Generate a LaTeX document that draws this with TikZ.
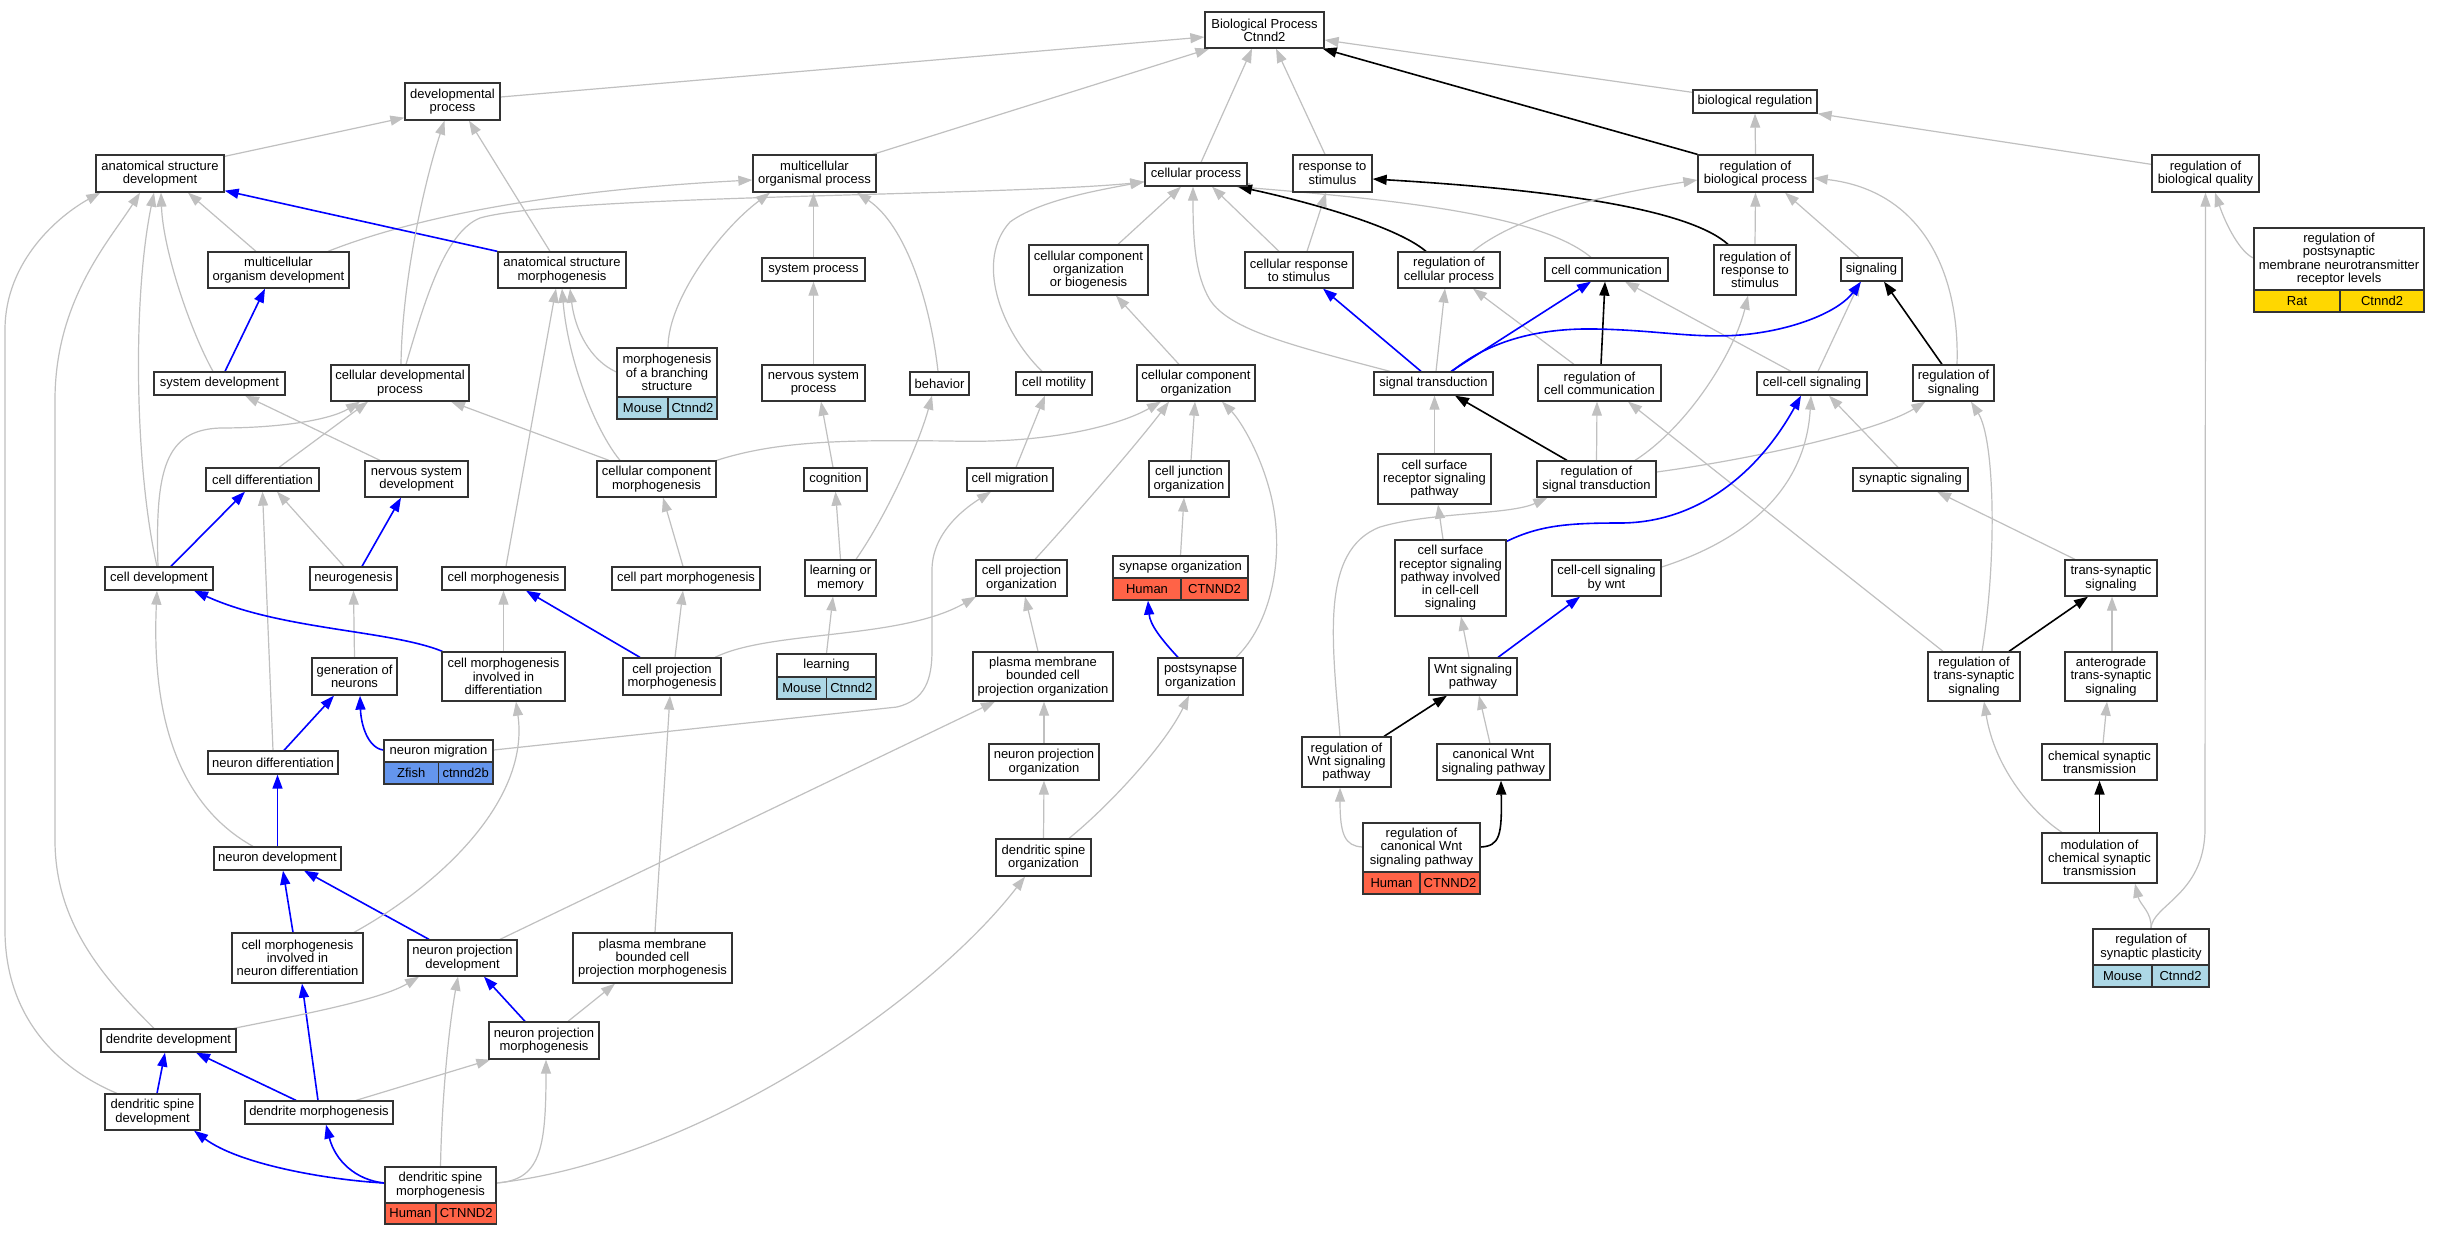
\documentclass[tikz,border=0pt]{standalone}
\usepackage{fontspec}
\setmainfont{Liberation Sans}
\usetikzlibrary{arrows.meta}
\pgfdeclarelayer{edgelayer}
\pgfsetlayers{edgelayer,main}
\definecolor{edgegray}{RGB}{192,192,192}
\definecolor{mousecol}{RGB}{173,216,230}
\definecolor{humancol}{RGB}{255,99,71}
\definecolor{zfishcol}{RGB}{100,149,237}
\definecolor{ratcol}{RGB}{255,215,0}
\newcommand\gofont{\fontsize{13}{13.3}\selectfont}
\tikzset{
  gobox/.style={draw=black!80, line width=1.3pt, fill=white, inner sep=0pt, align=center, font=\gofont},
  anc/.style={inner sep=0pt, outer sep=0.65pt},
  tip/.style={-{Triangle[length=14pt,width=10pt]}},
  ge/.style={draw=edgegray, line width=1.2pt, tip},
  be/.style={draw=blue, line width=1.6pt, tip},
  ke/.style={draw=black, line width=1.6pt, tip},
}
\begin{document}
\begin{tikzpicture}[x=1pt,y=-1pt]
\useasboundingbox (0,0) rectangle (2440,1235);
% ---------------- nodes ----------------
\node[gobox, minimum width=119pt, minimum height=36pt] (bp) at (1264.5,30) {Biological Process\\Ctnnd2};
\node[gobox, minimum width=95pt, minimum height=37pt] (devp) at (452.5,101.5) {developmental\\process};
\node[gobox, minimum width=128pt, minimum height=37pt] (asd) at (160,173.5) {anatomical structure\\development};
\node[gobox, minimum width=141pt, minimum height=36pt] (mod) at (278.5,270) {multicellular\\organism development};
\node[gobox, minimum width=128pt, minimum height=36pt] (asm) at (562,270) {anatomical structure\\morphogenesis};
\node[gobox, minimum width=131pt, minimum height=23pt] (sysdev) at (219.5,383.5) {system development};
\node[gobox, minimum width=138pt, minimum height=36pt] (cdp) at (400,383) {cellular developmental\\process};
\node[gobox, minimum width=123pt, minimum height=37pt] (mop) at (814.5,173.5) {multicellular\\organismal process};
\node[gobox, minimum width=103pt, minimum height=23pt] (sysp) at (813.5,269.5) {system process};
\node[gobox, minimum width=103pt, minimum height=36pt] (nsp) at (813.5,383) {nervous system\\process};
\node[gobox, minimum width=59pt, minimum height=23pt] (beh) at (939.5,383.5) {behavior};
\node[gobox, minimum width=76pt, minimum height=23pt] (cmot) at (1054,383.5) {cell motility};
\node[gobox, minimum width=119pt, minimum height=50pt] (ccob) at (1088.5,270) {cellular component\\organization\\or biogenesis};
\node[gobox, minimum width=102pt, minimum height=23pt] (cp) at (1196,174.5) {cellular process};
\node[gobox, minimum width=118pt, minimum height=36pt] (cco) at (1196,383) {cellular component\\organization};
\node[gobox, minimum width=79pt, minimum height=37pt] (rts) at (1332.5,173.5) {response to\\stimulus};
\node[gobox, minimum width=124pt, minimum height=23pt] (breg) at (1755,101.5) {biological regulation};
\node[gobox, minimum width=115pt, minimum height=37pt] (rbp) at (1755.5,173.5) {regulation of\\biological process};
\node[gobox, minimum width=108pt, minimum height=36pt] (crs) at (1299,270) {cellular response\\to stimulus};
\node[gobox, minimum width=102pt, minimum height=36pt] (rcp) at (1449,270) {regulation of\\cellular process};
\node[gobox, minimum width=123pt, minimum height=23pt] (ccom) at (1606.5,269.5) {cell communication};
\node[gobox, minimum width=82pt, minimum height=50pt] (rrs) at (1755,270) {regulation of\\response to\\stimulus};
\node[gobox, minimum width=119pt, minimum height=23pt] (st) at (1433.5,383.5) {signal transduction};
\node[gobox, minimum width=123pt, minimum height=36pt] (rcc) at (1599.5,383) {regulation of\\cell communication};
\node[gobox, minimum width=110pt, minimum height=23pt] (ccs) at (1812,383.5) {cell-cell signaling};
\node[gobox, minimum width=107pt, minimum height=37pt] (rbq) at (2205.5,173.5) {regulation of\\biological quality};
\node[gobox, minimum width=61pt, minimum height=23pt] (sig) at (1871.5,269.5) {signaling};
\node[gobox, minimum width=81pt, minimum height=36pt] (rsig) at (1953.5,383) {regulation of\\signaling};
\node[gobox, minimum width=113pt, minimum height=23pt] (cdiff) at (262.5,479.5) {cell differentiation};
\node[gobox, minimum width=103pt, minimum height=36pt] (nsd) at (416.5,479) {nervous system\\development};
\node[gobox, minimum width=119pt, minimum height=36pt] (ccm) at (656.5,479) {cellular component\\morphogenesis};
\node[gobox, minimum width=108pt, minimum height=23pt] (cdev) at (159,578.5) {cell development};
\node[gobox, minimum width=87pt, minimum height=23pt] (neur) at (353.5,578.5) {neurogenesis};
\node[gobox, minimum width=123pt, minimum height=23pt] (cmorph) at (503.5,578.5) {cell morphogenesis};
\node[gobox, minimum width=148pt, minimum height=23pt] (cpartm) at (686,578.5) {cell part morphogenesis};
\node[gobox, minimum width=85pt, minimum height=37pt] (gon) at (354.5,676.5) {generation of\\neurons};
\node[gobox, minimum width=123pt, minimum height=49pt] (cmid) at (503.5,676.5) {cell morphogenesis\\involved in\\differentiation};
\node[gobox, minimum width=130pt, minimum height=23pt] (ndiff) at (273,762.5) {neuron differentiation};
\node[gobox, minimum width=63pt, minimum height=23pt] (cog) at (835.5,479.5) {cognition};
\node[gobox, minimum width=86pt, minimum height=23pt] (cmig) at (1010,479.5) {cell migration};
\node[gobox, minimum width=80pt, minimum height=36pt] (cjo) at (1189,479) {cell junction\\organization};
\node[gobox, minimum width=71pt, minimum height=36pt] (lom) at (840.5,578) {learning or\\memory};
\node[gobox, minimum width=91pt, minimum height=36pt] (cpo) at (1021.5,578) {cell projection\\organization};
\node[gobox, minimum width=98pt, minimum height=37pt] (cpm) at (672,676.5) {cell projection\\morphogenesis};
\node[gobox, minimum width=140pt, minimum height=49pt] (pmbcpo) at (1043,676.5) {plasma membrane\\bounded cell\\projection organization};
\node[gobox, minimum width=85pt, minimum height=37pt] (pso) at (1200.5,676.5) {postsynapse\\organization};
\node[gobox, minimum width=110pt, minimum height=36pt] (npo) at (1044,762) {neuron projection\\organization};
\node[gobox, minimum width=113pt, minimum height=50pt] (csrsp) at (1434.5,479) {cell surface\\receptor signaling\\pathway};
\node[gobox, minimum width=119pt, minimum height=36pt] (rst) at (1596.5,479) {regulation of\\signal transduction};
\node[gobox, minimum width=111pt, minimum height=76pt] (csrspi) at (1450.5,578) {cell surface\\receptor signaling\\pathway involved\\in cell-cell\\signaling};
\node[gobox, minimum width=109pt, minimum height=36pt] (ccsw) at (1606.5,578) {cell-cell signaling\\by wnt};
\node[gobox, minimum width=88pt, minimum height=37pt] (wnt) at (1473,676.5) {Wnt signaling\\pathway};
\node[gobox, minimum width=89pt, minimum height=50pt] (rwnt) at (1346.5,762) {regulation of\\Wnt signaling\\pathway};
\node[gobox, minimum width=113pt, minimum height=36pt] (cwnt) at (1493.5,762) {canonical Wnt\\signaling pathway};
\node[gobox, minimum width=115pt, minimum height=23pt] (synsig) at (1910.5,479.5) {synaptic signaling};
\node[gobox, minimum width=92pt, minimum height=36pt] (tss) at (2111,578) {trans-synaptic\\signaling};
\node[gobox, minimum width=92pt, minimum height=49pt] (rtss) at (1974,676.5) {regulation of\\trans-synaptic\\signaling};
\node[gobox, minimum width=92pt, minimum height=49pt] (ats) at (2111,676.5) {anterograde\\trans-synaptic\\signaling};
\node[gobox, minimum width=115pt, minimum height=36pt] (cst) at (2099.5,762) {chemical synaptic\\transmission};
\node[gobox, minimum width=127pt, minimum height=23pt] (ndev) at (277.5,858.5) {neuron development};
\node[gobox, minimum width=131pt, minimum height=50pt] (cmind) at (297.5,958) {cell morphogenesis\\involved in\\neuron differentiation};
\node[gobox, minimum width=109pt, minimum height=36pt] (npd) at (462.5,958) {neuron projection\\development};
\node[gobox, minimum width=159pt, minimum height=50pt] (pmbcpm) at (652.5,958) {plasma membrane\\bounded cell\\projection morphogenesis};
\node[gobox, minimum width=135pt, minimum height=23pt] (dd) at (168.5,1040.5) {dendrite development};
\node[gobox, minimum width=110pt, minimum height=37pt] (npm) at (544,1040.5) {neuron projection\\morphogenesis};
\node[gobox, minimum width=95pt, minimum height=36pt] (dsd) at (152.5,1112) {dendritic spine\\development};
\node[gobox, minimum width=148pt, minimum height=23pt] (dm) at (319,1112.5) {dendrite morphogenesis};
\node[gobox, minimum width=95pt, minimum height=37pt] (dso) at (1043.5,857.5) {dendritic spine\\organization};
\node[gobox, minimum width=115pt, minimum height=50pt] (mcst) at (2099.5,858) {modulation of\\chemical synaptic\\transmission};
% ---- nodes with species bars ----
\node[gobox, minimum width=100pt, minimum height=49pt] (mbs-h) at (667,372.5) {morphogenesis\\of a branching\\structure};
\node[gobox, fill=mousecol, minimum width=51pt, minimum height=22pt] (mbs-a) at (642.5,408) {Mouse};
\node[gobox, fill=mousecol, minimum width=49pt, minimum height=22pt] (mbs-b) at (692.5,408) {Ctnnd2};
\node[anc, minimum width=100pt, minimum height=71pt] (mbs) at (667,383.5) {};
\node[gobox, minimum width=170pt, minimum height=62pt] (rpm-h) at (2339,259) {regulation of\\postsynaptic\\membrane neurotransmitter\\receptor levels};
\node[gobox, fill=ratcol, minimum width=86pt, minimum height=22pt] (rpm-a) at (2297,301) {Rat};
\node[gobox, fill=ratcol, minimum width=84pt, minimum height=22pt] (rpm-b) at (2382,301) {Ctnnd2};
\node[anc, minimum width=170pt, minimum height=84pt] (rpm) at (2339,270) {};
\node[gobox, minimum width=109pt, minimum height=22pt] (nmig-h) at (438.5,751) {neuron migration};
\node[gobox, fill=zfishcol, minimum width=54.5pt, minimum height=22pt] (nmig-a) at (411.25,773) {Zfish};
\node[gobox, fill=zfishcol, minimum width=54.5pt, minimum height=22pt] (nmig-b) at (465.75,773) {ctnnd2b};
\node[anc, minimum width=109pt, minimum height=44pt] (nmig) at (438.5,762) {};
\node[gobox, minimum width=135pt, minimum height=22pt] (synorg-h) at (1180.5,567) {synapse organization};
\node[gobox, fill=humancol, minimum width=68pt, minimum height=22pt] (synorg-a) at (1147,589) {Human};
\node[gobox, fill=humancol, minimum width=67pt, minimum height=22pt] (synorg-b) at (1214.5,589) {CTNND2};
\node[anc, minimum width=135pt, minimum height=44pt] (synorg) at (1180.5,578) {};
\node[gobox, minimum width=99pt, minimum height=23pt] (learn-h) at (826.5,665.5) {learning};
\node[gobox, fill=mousecol, minimum width=49.6pt, minimum height=22pt] (learn-a) at (801.8,688) {Mouse};
\node[gobox, fill=mousecol, minimum width=49.4pt, minimum height=22pt] (learn-b) at (851.3,688) {Ctnnd2};
\node[anc, minimum width=99pt, minimum height=45pt] (learn) at (826.5,676.5) {};
\node[gobox, minimum width=111pt, minimum height=36pt] (dsm-h) at (440.5,1185) {dendritic spine\\morphogenesis};
\node[gobox, fill=humancol, minimum width=50.7pt, minimum height=21pt] (dsm-a) at (410.35,1213.5) {Human};
\node[gobox, fill=humancol, minimum width=60.3pt, minimum height=21pt] (dsm-b) at (466.15,1213.5) {CTNND2};
\node[anc, minimum width=111pt, minimum height=57pt] (dsm) at (440.5,1195.5) {};
\node[gobox, minimum width=117pt, minimum height=49pt] (rcwnt-h) at (1421.5,847.5) {regulation of\\canonical Wnt\\signaling pathway};
\node[gobox, fill=humancol, minimum width=57pt, minimum height=22pt] (rcwnt-a) at (1391.5,883) {Human};
\node[gobox, fill=humancol, minimum width=60pt, minimum height=22pt] (rcwnt-b) at (1450,883) {CTNND2};
\node[anc, minimum width=117pt, minimum height=71pt] (rcwnt) at (1421.5,858.5) {};
\node[gobox, minimum width=116pt, minimum height=36pt] (rsp-h) at (2151,947) {regulation of\\synaptic plasticity};
\node[gobox, fill=mousecol, minimum width=59pt, minimum height=22pt] (rsp-a) at (2122.5,976) {Mouse};
\node[gobox, fill=mousecol, minimum width=57pt, minimum height=22pt] (rsp-b) at (2180.5,976) {Ctnnd2};
\node[anc, minimum width=116pt, minimum height=58pt] (rsp) at (2151,958) {};
% ---------------- edges ----------------
\begin{pgfonlayer}{edgelayer}
\fill[white] (0,0) rectangle (2440,1235);
\draw[ge] ([yshift=4.5pt]devp.east) -- ([yshift=-7pt]bp.west);
\draw[ge] ([yshift=-2pt]asd.north east) -- ([yshift=3pt]devp.south west);
\draw[ge] ([xshift=58.5pt]mop.north) -- ([xshift=5pt]bp.south west);
\draw[ge] ([xshift=5pt]cp.north) -- ([xshift=-12.5pt]bp.south);
\draw[ge] ([xshift=-7.5pt]rts.north) -- ([xshift=11.5pt]bp.south);
\draw[ke] (rbp.north west) -- ([xshift=-2pt]bp.south east);
\draw[ge] ([yshift=-3pt]breg.north west) -- ([yshift=-10pt]bp.east);
\draw[ge] (rbp.north) -- (breg.south);
\draw[ge] ([yshift=-10pt]rbq.north west) -- (breg.south east);
\draw[ge] ([yshift=12pt]rpm.west) .. controls (2240,252) and (2226,225) .. ([xshift=9.5pt]rbq.south);
\draw[ge] (rsp.north) .. controls (2152,905) and (2204,895) .. (2205,830) -- (rbq.south);
\draw[ge] (rsp.north) .. controls (2152,912) and (2140,905) .. ([xshift=35.5pt]mcst.south);
\draw[ke] (mcst.north) -- (cst.south);
\draw[ge] ([xshift=-37.5pt]mcst.north) .. controls (2035,815) and (1995,770) .. ([xshift=10pt]rtss.south);
\draw[ge] ([xshift=3.5pt]cst.north) -- ([xshift=-4pt]ats.south);
\draw[ge] ([xshift=1pt]ats.north) -- ([xshift=1pt]tss.south);
\draw[ke] ([xshift=35pt]rtss.north) -- ([xshift=-23pt]tss.south);
\draw[ge] ([xshift=-36pt]tss.north) -- ([xshift=26.5pt]synsig.south);
\draw[ge] ([xshift=8pt]rtss.north) .. controls (1997,560) and (1995,440) .. ([xshift=17.5pt]rsig.south);
\draw[ge] ([xshift=-31pt]rtss.north) -- ([xshift=28.5pt]rcc.south);
\draw[ge] ([xshift=-12.5pt]synsig.north) -- ([xshift=17pt]ccs.south);
\draw[ge] ([yshift=7pt]rst.east) .. controls (1760,458) and (1880,430) .. ([xshift=13pt]rsig.south west);
\draw[ke] ([xshift=-11.5pt]rsig.north) -- ([xshift=12.5pt]sig.south);
\draw[ge] ([xshift=3.5pt]rsig.north) .. controls (1960,270) and (1920,190) .. ([yshift=-4.5pt]rbp.east);
\draw[ge] ([xshift=6pt]ccs.north) -- ([xshift=-11.5pt]sig.south);
\draw[ge] ([xshift=-21pt]ccs.north) -- ([xshift=18.5pt]ccom.south);
\draw[ge] ([xshift=-12.5pt]sig.north) -- ([xshift=29.5pt]rbp.south);
\draw[ge] (rrs.north) -- (rbp.south);
\draw[ke] ([xshift=-27pt]rrs.north) .. controls (1690,210) and (1560,190) .. ([yshift=-5.5pt]rts.east);
\draw[ge] ([xshift=38.5pt]rst.north) .. controls (1690,425) and (1735,350) .. ([xshift=-7pt]rrs.south);
\draw[ke] ([xshift=-29.5pt]rst.north) -- ([xshift=21.5pt]st.south);
\draw[ge] (rst.north) -- ([xshift=-2.5pt]rcc.south);
\draw[ke] ([xshift=1.5pt]rcc.north) -- ([xshift=-1.5pt]ccom.south);
\draw[ge] ([xshift=-25.5pt]rcc.north) -- ([xshift=24pt]rcp.south);
\draw[be] ([xshift=-12.5pt]st.north) -- ([xshift=24pt]crs.south);
\draw[be] ([xshift=17.5pt]st.north) -- ([xshift=-15.5pt]ccom.south);
\draw[be] ([xshift=18.5pt]st.north) .. controls (1490,340) and (1540,328) .. (1595,329) .. controls (1660,330) and (1700,340) .. (1750,334) .. controls (1800,328) and (1840,310) .. ([xshift=-10.5pt]sig.south);
\draw[ge] ([xshift=2.5pt]st.north) -- ([xshift=-4pt]rcp.south);
\draw[ge] ([xshift=-43.5pt]st.north) .. controls (1290,345) and (1230,330) .. (1210,300) .. controls (1195,275) and (1193,240) .. ([xshift=-3pt]cp.south);
\draw[ge] ([xshift=8pt]crs.north) -- ([xshift=-6.5pt]rts.south);
\draw[ge] ([xshift=-20pt]crs.north) -- ([xshift=16pt]cp.south);
\draw[ge] ([xshift=-15.5pt]ccom.north) .. controls (1540,215) and (1400,200) .. ([xshift=40pt]cp.south);
\draw[ke] ([xshift=-23pt]rcp.north) .. controls (1395,225) and (1300,200) .. ([xshift=42pt]cp.south);
\draw[ge] ([xshift=24pt]rcp.north) .. controls (1505,225) and (1570,200) .. ([yshift=-6.5pt]rbp.west);
\draw[ge] ([xshift=6pt]cdp.north) .. controls (425,300) and (445,232) .. (480,218) .. controls (560,195) and (1000,196) .. ([yshift=-7.5pt]cp.west);
\draw[ge] ([xshift=-12pt]cmot.north) .. controls (1000,330) and (975,260) .. (1010,222) .. controls (1040,200) and (1100,190) .. ([yshift=-7pt]cp.west);
\draw[ge] ([xshift=29.5pt]ccob.north) -- ([xshift=-15pt]cp.south);
\draw[ge] ([xshift=49.5pt]mod.north) .. controls (420,215) and (560,190) .. ([yshift=-6.5pt]mop.west);
\draw[ge] (sysp.north) -- ([xshift=-1pt]mop.south);
\draw[ge] ([xshift=1pt]mbs.north) .. controls (668,300) and (720,230) .. ([xshift=-44.5pt]mop.south);
\draw[ge] ([xshift=-1.5pt]beh.north) .. controls (930,300) and (905,225) .. ([xshift=42.5pt]mop.south);
\draw[ge] (nsp.north) -- (sysp.south);
\draw[ge] ([xshift=-2.5pt]cog.north) -- ([xshift=7.5pt]nsp.south);
\draw[ge] (lom.north) -- (cog.south);
\draw[ge] ([xshift=15.5pt]lom.north) .. controls (890,510) and (920,440) .. ([xshift=-7.5pt]beh.south);
\draw[ge] (learn.north) -- ([xshift=-7.5pt]lom.south);
\draw[ge] ([xshift=-17pt]cco.north) -- ([xshift=27.5pt]ccob.south);
\draw[ge] (ccm.north east) .. controls (780,440) and (850,440) .. (950,441) .. controls (1050,444) and (1120,425) .. ([xshift=-35pt]cco.south);
\draw[ge] ([xshift=13.5pt]cpo.north) .. controls (1080,510) and (1140,440) .. ([xshift=-27pt]cco.south);
\draw[ge] ([xshift=2pt]cjo.north) -- ([xshift=-1pt]cco.south);
\draw[ge] ([xshift=35.5pt]pso.north) .. controls (1270,625) and (1285,560) .. (1272,500) .. controls (1262,455) and (1240,420) .. ([xshift=26pt]cco.south);
\draw[ge] (synorg.north) -- ([xshift=-5pt]cjo.south);
\draw[be] ([xshift=-22.5pt]pso.north) .. controls (1162,640) and (1150,625) .. ([xshift=-32.5pt]synorg.south);
\draw[ge] ([xshift=25.5pt]dso.north) .. controls (1110,805) and (1165,745) .. ([xshift=-11.5pt]pso.south);
\draw[ge] ([yshift=12.5pt]dsm.east) .. controls (700,1160) and (930,1000) .. ([xshift=-18.5pt]dso.south);
\draw[ge] (dso.north) -- (npo.south);
\draw[ge] (npo.north) -- ([xshift=1pt]pmbcpo.south);
\draw[ge] ([xshift=-5pt]pmbcpo.north) -- ([xshift=3.5pt]cpo.south);
\draw[ge] ([xshift=43pt]cpm.north) .. controls (770,630) and (900,640) .. ([xshift=-45.5pt]cpo.south);
\draw[ge] ([xshift=3pt]cpm.north) -- ([xshift=-3pt]cpartm.south);
\draw[be] ([xshift=-32pt]cpm.north) -- ([xshift=22.5pt]cmorph.south);
\draw[ge] ([xshift=-3pt]cpartm.north) -- ([xshift=6.5pt]ccm.south);
\draw[ge] ([xshift=-47.5pt]ccm.north) -- ([xshift=51pt]cdp.south);
\draw[ge] ([xshift=-36.5pt]ccm.north) .. controls (595,430) and (568,360) .. (asm.south);
\draw[ge] ([yshift=11.5pt]mbs.west) .. controls (590,360) and (575,330) .. ([xshift=8pt]asm.south);
\draw[ge] ([xshift=2.5pt]cmorph.north) -- ([xshift=-6pt]asm.south);
\draw[ge] ([xshift=-12pt]asm.north) -- ([xshift=16.5pt]devp.south);
\draw[be] (asm.north west) -- ([yshift=2pt]asd.south east);
\draw[ge] ([xshift=1pt]cdp.north) .. controls (402,280) and (425,180) .. ([xshift=-8pt]devp.south);
\draw[ge] ([xshift=-22.5pt]mod.north) -- ([xshift=28pt]asd.south);
\draw[be] ([xshift=5.5pt]sysdev.north) -- ([xshift=-13.5pt]mod.south);
\draw[ge] ([xshift=-6.5pt]sysdev.north) .. controls (190,330) and (163,250) .. ([xshift=1pt]asd.south);
\draw[ge] ([xshift=-2pt]cdev.north) .. controls (135,470) and (132,300) .. ([xshift=-6pt]asd.south);
\draw[ge] ([xshift=-14.5pt]dd.north) .. controls (100,975) and (55,920) .. (55,840) -- (55,400) .. controls (55,300) and (110,240) .. ([xshift=-20pt]asd.south);
\draw[ge] ([xshift=-35.5pt]dsd.north) .. controls (50,1065) and (5,1010) .. (5,930) -- (5,330) .. controls (5,260) and (60,215) .. ([xshift=5pt]asd.south west);
\draw[ge] ([xshift=-36.5pt]nsd.north) -- ([xshift=25.5pt]sysdev.south);
\draw[ge] ([xshift=16.5pt]cdiff.north) -- ([xshift=-32pt]cdp.south);
\draw[ge] ([xshift=-1pt]cdev.north) .. controls (155,470) and (165,430) .. (220,428) .. controls (280,428) and (330,420) .. ([xshift=-40pt]cdp.south);
\draw[be] ([xshift=12pt]cdev.north) -- ([xshift=-17.5pt]cdiff.south);
\draw[be] ([xshift=8.5pt]neur.north) -- ([xshift=-15.5pt]nsd.south);
\draw[ge] ([xshift=-9.5pt]neur.north) -- ([xshift=14.5pt]cdiff.south);
\draw[ge] (ndiff.north) -- (cdiff.south);
\draw[ge] (gon.north) -- (neur.south);
\draw[be] ([xshift=11pt]ndiff.north) -- ([xshift=-20.5pt]gon.south);
\draw[be] ([yshift=12pt]nmig.west) .. controls (368,748) and (361,725) .. ([xshift=5.5pt]gon.south);
\draw[ge] ([yshift=12pt]nmig.east) -- (897,707) .. controls (925,700) and (932,680) .. (932,650) -- (932,570) .. controls (932,530) and (970,505) .. ([xshift=-19pt]cmig.south);
\draw[ge] ([xshift=6pt]cmig.north) -- ([xshift=-9pt]cmot.south);
\draw[ge] ([xshift=-24.5pt]ndev.north) .. controls (170,800) and (152,700) .. ([xshift=-2pt]cdev.south);
\draw[be] ([xshift=1pt]cmid.north west) .. controls (390,630) and (280,630) .. ([xshift=35pt]cdev.south);
\draw[ge] (cmid.north) -- (cmorph.south);
\draw[be] (ndev.north) -- ([xshift=4.5pt]ndiff.south);
\draw[be] ([xshift=-4.5pt]cmind.north) -- ([xshift=5.5pt]ndev.south);
\draw[be] ([xshift=-33.5pt]npd.north) -- ([xshift=26.5pt]ndev.south);
\draw[ge] ([xshift=56.5pt]cmind.north) .. controls (440,885) and (530,800) .. ([xshift=12.5pt]cmid.south);
\draw[be] ([xshift=-1pt]dm.north) -- ([xshift=4.5pt]cmind.south);
\draw[ge] ([xshift=-3pt]dd.north east) .. controls (300,1015) and (380,1000) .. ([xshift=-43.5pt]npd.south);
\draw[ge] (dsm.north) .. controls (442,1090) and (450,1020) .. ([xshift=-4.5pt]npd.south);
\draw[be] ([xshift=-19pt]npm.north) -- ([xshift=21.5pt]npd.south);
\draw[ge] ([xshift=37.5pt]npd.north) -- ([xshift=-48pt]pmbcpo.south);
\draw[ge] ([xshift=24pt]npm.north) -- ([xshift=-37.5pt]pmbcpm.south);
\draw[ge] ([xshift=2.5pt]pmbcpm.north) -- ([xshift=-2pt]cpm.south);
\draw[be] ([xshift=4.5pt]dsd.north) -- ([xshift=-3.5pt]dd.south);
\draw[be] ([xshift=-23pt]dm.north) -- ([xshift=27.5pt]dd.south);
\draw[ge] ([xshift=37pt]dm.north) -- ([xshift=2pt]npm.south west);
\draw[be] ([yshift=12.5pt]dsm.west) .. controls (330,1180) and (240,1165) .. ([xshift=41.5pt]dsd.south);
\draw[be] ([yshift=12.5pt]dsm.west) .. controls (355,1180) and (335,1160) .. ([xshift=7pt]dm.south);
\draw[ge] ([yshift=12.5pt]dsm.east) .. controls (540,1180) and (546,1150) .. ([xshift=2pt]npm.south);
\draw[ge] ([yshift=11.5pt]rcwnt.west) .. controls (1345,846) and (1340,835) .. ([xshift=-6.5pt]rwnt.south);
\draw[ke] ([yshift=11.5pt]rcwnt.east) .. controls (1500,846) and (1502,835) .. ([xshift=7.5pt]cwnt.south);
\draw[ge] ([xshift=-3.5pt]cwnt.north) -- ([xshift=6pt]wnt.south);
\draw[ke] ([xshift=37.5pt]rwnt.north) -- ([xshift=-26pt]wnt.south);
\draw[ge] ([xshift=-6.5pt]rwnt.north) .. controls (1332,640) and (1320,550) .. (1380,527) .. controls (1430,512) and (1510,515) .. ([xshift=11pt]rst.south west);
\draw[be] ([xshift=25pt]wnt.north) -- ([xshift=-26.5pt]ccsw.south);
\draw[ge] ([xshift=-4pt]wnt.north) -- ([xshift=10.5pt]csrspi.south);
\draw[ge] ([yshift=11pt]ccsw.east) .. controls (1730,545) and (1805,500) .. ([xshift=-1pt]ccs.south);
\draw[ge] ([xshift=-7.5pt]csrspi.north) -- ([xshift=3.5pt]csrsp.south);
\draw[be] ([yshift=-2pt]csrspi.north east) .. controls (1540,525) and (1570,523) .. (1620,523) .. controls (1700,523) and (1760,470) .. ([xshift=-11pt]ccs.south);
\draw[ge] (csrsp.north) -- ([xshift=1pt]st.south);
\end{pgfonlayer}
\end{tikzpicture}
\end{document}
